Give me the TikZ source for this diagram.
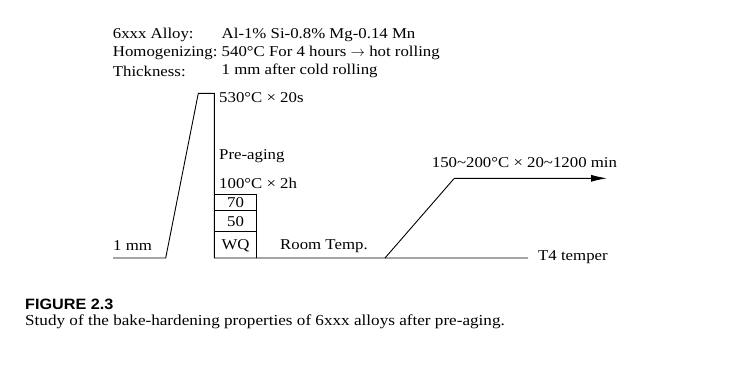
\documentclass[tikz,border=0pt]{standalone}
\usepackage{fontspec}
\setmainfont{Liberation Serif}[FakeStretch=1.12]
\setsansfont{Liberation Sans}[FakeStretch=1.08]
\usetikzlibrary{arrows.meta}
\tikzset{
  txt/.style={inner sep=0pt, anchor=west, font=\fontsize{15}{18}\selectfont},
  line/.style={line width=0.9pt, line join=miter},
}
\begin{document}
\begin{tikzpicture}[x=1pt,y=-1pt]
\useasboundingbox (0,0) rectangle (729,384);
% header
\node[txt] (h1) at (112.7,35) {6xxx Alloy:};
\node[txt] (h2) at (112.7,53) {Homogenizing:};
\node[txt] (h3) at (112.7,71) {Thickness:};
\node[txt] (v1) at (221.5,35) {Al-1\% Si-0.8\% Mg-0.14 Mn};
\node[txt] (v2) at (221.5,53) {540°C For 4 hours $\rightarrow$ hot rolling};
\node[txt] (v3) at (221.5,71) {1 mm after cold rolling};
% path coordinates
\coordinate (a0) at (113,258);
\coordinate (a1) at (165.7,258);
\coordinate (a2) at (198.3,93.3);
\coordinate (a3) at (214.3,93.3);
\coordinate (a4) at (214.3,258);
\coordinate (b1) at (256.7,194.3);
\coordinate (b2) at (256.7,258);
\coordinate (c1) at (385,258);
\coordinate (c2) at (454.3,178.3);
\coordinate (c3) at (607,178.3);
\coordinate (e1) at (528,258);
\draw[line] (a0) -- (a1) -- (a2) -- (a3) -- (a4) -- (c1) -- (e1);
\draw[line] (a3 |- b1) -- (b1) -- (b2);
\draw[line] (214.3,210.3) -- (256.7,210.3);
\draw[line] (214.3,231.7) -- (256.7,231.7);
\draw[line,-{Latex[length=16pt,width=7pt]}] (c1) -- (c2) -- (c3);
% labels
\node[txt] (l1) at (113,245.7) {1 mm};
\node[txt] (l2) at (219,98) {530°C × 20s};
\node[txt] (l3) at (219,156) {Pre-aging};
\node[txt] (l4) at (219,183) {100°C × 2h};
\node[txt,anchor=center] (l5) at (235.5,202.7) {70};
\node[txt,anchor=center] (l6) at (235.5,221.7) {50};
\node[txt,anchor=center] (l7) at (235.5,245.7) {WQ};
\node[txt] (l8) at (280,246) {Room Temp.};
\node[txt] (l9) at (431.7,163) {150\textasciitilde 200°C × 20\textasciitilde 1200 min};
\node[txt] (l10) at (538,256.7) {T4 temper};
% caption
\node[inner sep=0pt, anchor=west, font=\fontsize{15}{17}\sffamily\bfseries\selectfont] (cap1) at (25,304.5) {FIGURE 2.3};
\node[txt, font=\fontsize{15.3}{18}\selectfont] (cap2) at (25,322) {Study of the bake-hardening properties of 6xxx alloys after pre-aging.};
\end{tikzpicture}
\end{document}
